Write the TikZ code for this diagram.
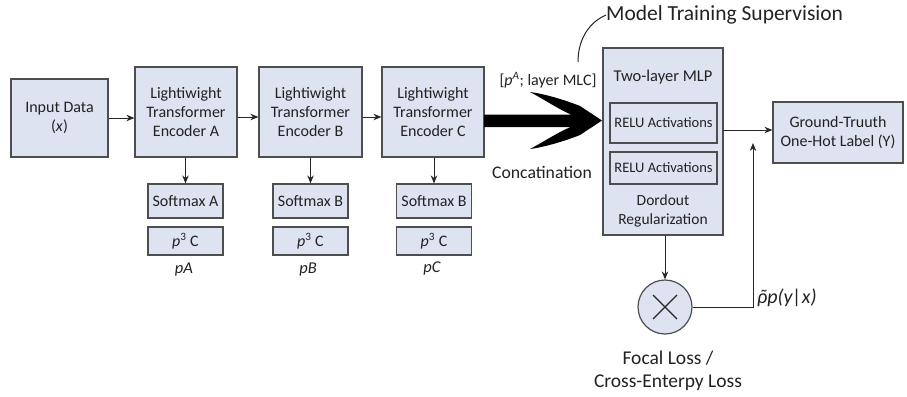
\documentclass[tikz,border=0pt]{standalone}
\usepackage{fontspec}
\setmainfont{Carlito}
\usetikzlibrary{arrows.meta}
\definecolor{boxfill}{RGB}{221,227,241}
\definecolor{boxline}{RGB}{78,78,78}
\definecolor{txt}{RGB}{34,34,34}
\tikzset{
  box/.style={draw=boxline, fill=boxfill, line width=1.2pt, align=center, inner sep=0pt, text=txt, font=\fontsize{16}{19}\selectfont},
  arr/.style={-{Stealth[length=8pt,width=6.5pt]}, line width=1pt, draw=black!85},
  lbl/.style={align=center, inner sep=0pt, text=txt},
}
\newcommand{\tilderho}{\ooalign{ρ\cr\hidewidth\kern0.08em ˜\hidewidth\cr}}
\begin{document}
\begin{tikzpicture}[x=1pt,y=-1pt]
\useasboundingbox (0,0) rectangle (907,396);
% main chain
\node[box, minimum width=97pt, minimum height=78pt] (in) at (59.5,118) {Input Data\\(\textit{x})};
\node[box, minimum width=102pt, minimum height=90pt] (encA) at (186,112) {Lightiwight\\Transformer\\Encoder A};
\node[box, minimum width=103pt, minimum height=90pt] (encB) at (310.5,112) {Lightiwight\\Transformer\\Encoder B};
\node[box, minimum width=102pt, minimum height=90pt] (encC) at (433,112) {Lightiwight\\Transformer\\Encoder C};
\draw[arr] (in.east) -- (in.east -| encA.west);
\draw[arr] ([yshift=-5pt]encA.east) -- ([yshift=-5pt]encB.west);
\draw[arr] ([yshift=-5pt]encB.east) -- ([yshift=-5pt]encC.west);
% softmax heads
\node[box, minimum width=75pt, minimum height=34pt] (smA) at (185.5,201) {Softmax A};
\node[box, minimum width=75pt, minimum height=34pt] (smB) at (310.5,201) {Softmax B};
\node[box, minimum width=75pt, minimum height=34pt] (smC) at (434,201) {Softmax B};
\node[box, minimum width=75pt, minimum height=28pt] (pbA) at (185.5,241) {\textit{p}\textsuperscript{3} C};
\node[box, minimum width=75pt, minimum height=28pt] (pbB) at (310.5,241) {\textit{p}\textsuperscript{3} C};
\node[box, minimum width=75pt, minimum height=28pt] (pbC) at (434,241) {\textit{p}\textsuperscript{3} C};
\node[lbl, font=\fontsize{16.5}{19}\selectfont\itshape] (lA) at (184,270) {pA};
\node[lbl, font=\fontsize{16.5}{19}\selectfont\itshape] (lB) at (308,270) {pB};
\node[lbl, font=\fontsize{16.5}{19}\selectfont\itshape] (lC) at (432,268) {pC};
\draw[arr] (encA.south -| smA) -- (smA.north);
\draw[arr] (encB.south -| smB) -- (smB.north);
\draw[arr] (encC.south -| smC) -- (smC.north);
% big concatenation arrow
\fill[black] (602,120.5) -- (580,106) .. controls (565,100) and (545,94) .. (530,92)
  .. controls (545,100) and (560,110) .. (571,114.5) -- (484,114.5) -- (484,127)
  -- (571,127) .. controls (560,131) and (545,141) .. (530,149)
  .. controls (545,147) and (565,141) .. (580,135) -- cycle;
\node[lbl, font=\fontsize{16}{19}\selectfont] (cat) at (548,80) {[\textit{p}\textsuperscript{\textit{A}}; layer MLC]};
\node[lbl, font=\fontsize{17.7}{20}\selectfont] (concat) at (542,172) {Concatination};
% MLP
\node[box, minimum width=120pt, minimum height=187pt] (mlp) at (663,141.5) {};
\node[lbl, font=\fontsize{16.5}{19}\selectfont] (mlpt) at (663,77) {Two-layer MLP};
\node[box, minimum width=107pt, minimum height=40pt, font=\fontsize{14.5}{17}\selectfont] (relu1) at (663.5,123) {RELU Activations};
\node[box, minimum width=107pt, minimum height=32pt, font=\fontsize{14.5}{17}\selectfont] (relu2) at (663.5,168) {RELU Activations};
\node[lbl, font=\fontsize{15.5}{18.5}\selectfont] (drop) at (663,211) {Dordout\\Regularization};
% title
\node[lbl, font=\fontsize{21.5}{24}\selectfont, anchor=west] (title) at (606,15) {Model Training Supervision};
\draw[line width=1pt, black!85] (578,62) .. controls (578,38) and (590,22) .. (title.west);
% ground truth
\node[box, minimum width=130pt, minimum height=61pt] (gt) at (838,132.5) {Ground-Truuth\\One-Hot Label (Y)};
\coordinate (mo) at (723,130);
\draw[arr] (mo) -- (mo -| gt.west);
% loss
\node[box, circle, minimum size=54pt] (loss) at (665,307) {};
\draw[line width=1.2pt, black!85] ([shift={(-12,-12)}]loss.center) -- ([shift={(12,12)}]loss.center)
  ([shift={(-12,12)}]loss.center) -- ([shift={(12,-12)}]loss.center);
\draw[arr] (mlp.south -| loss) -- (loss.north);
\coordinate (fb) at (753,143);
\draw[arr] (loss.east) -| (fb);
\node[lbl, font=\fontsize{20}{22}\selectfont\itshape, anchor=west] (pyx) at (757,298) {\tilderho p(y|x)};
\node[lbl, font=\fontsize{19.5}{23}\selectfont] (focal) at (668,371) {Focal Loss /\\Cross-Enterpy Loss};
\end{tikzpicture}
\end{document}
